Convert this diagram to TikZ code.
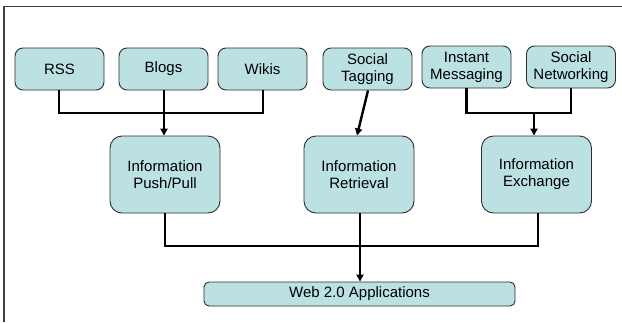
\documentclass[tikz,border=0pt]{standalone}
\usepackage{fontspec}
\setmainfont{Liberation Sans}
\usetikzlibrary{arrows.meta}
\definecolor{boxfill}{HTML}{BCE1E3}
\definecolor{boxline}{HTML}{2E2E2E}
\begin{document}
\begin{tikzpicture}[x=1pt,y=-1pt,
  box/.style={draw=boxline, line width=0.9pt, fill=boxfill, align=center, inner sep=0pt,
    font=\fontsize{15}{17}\selectfont},
  small/.style={box, minimum width=89pt, minimum height=42pt, rounded corners=8pt},
  info/.style={box, minimum width=110pt, minimum height=77pt, rounded corners=12pt},
  conn/.style={line width=2.4pt, black},
  arr/.style={conn, -{Triangle[length=7pt,width=7pt]}, shorten >=0pt}
]
\useasboundingbox (0,0) rectangle (622,322);
\draw[line width=1.3pt, black!75] (4,322) -- (4,6.5) -- (622,6.5);

\node[small] (rss)   at (59.5,69)  {RSS};
\node[small] (blogs) at (163.5,69) {Blogs};
\node[small] (wikis) at (262.5,69) {Wikis};
\node[small] (tag)   at (367.5,69) {Social\\Tagging};
\node[small] (im)    at (466.5,67) {Instant\\Messaging};
\node[small] (sn)    at (571,67)   {Social\\Networking};

\node[info] (pp)  at (165,174.5)   {Information\\Push/Pull};
\node[info] (ret) at (359,174.5)   {Information\\Retrieval};
\node[info] (ex)  at (536.5,174.5) {Information\\Exchange};

\node[box, minimum width=311pt, minimum height=24pt, rounded corners=5pt] (web) at (359.5,294) {Web 2.0 Applications};

% top group
\coordinate (j1) at (164,113);
\draw[conn] (rss.south -| 59,0) |- (j1) -| (wikis.south -| 263,0);
\draw[arr] (blogs.south -| j1) -- (pp.north -| j1);

\draw[arr] (tag.south -| 368,0) -- (ret.north -| 357,0);

\coordinate (j2) at (534,113);
\draw[conn] (im.south) |- (j2) -| (sn.south);
\draw[arr] (j2) -- (ex.north -| j2);

% bottom group
\coordinate (j3) at (360,246);
\draw[conn] (pp.south) |- (j3) -| (ex.south -| 538,0);
\draw[arr] (ret.south -| j3) -- (web.north -| j3);
\end{tikzpicture}
\end{document}
